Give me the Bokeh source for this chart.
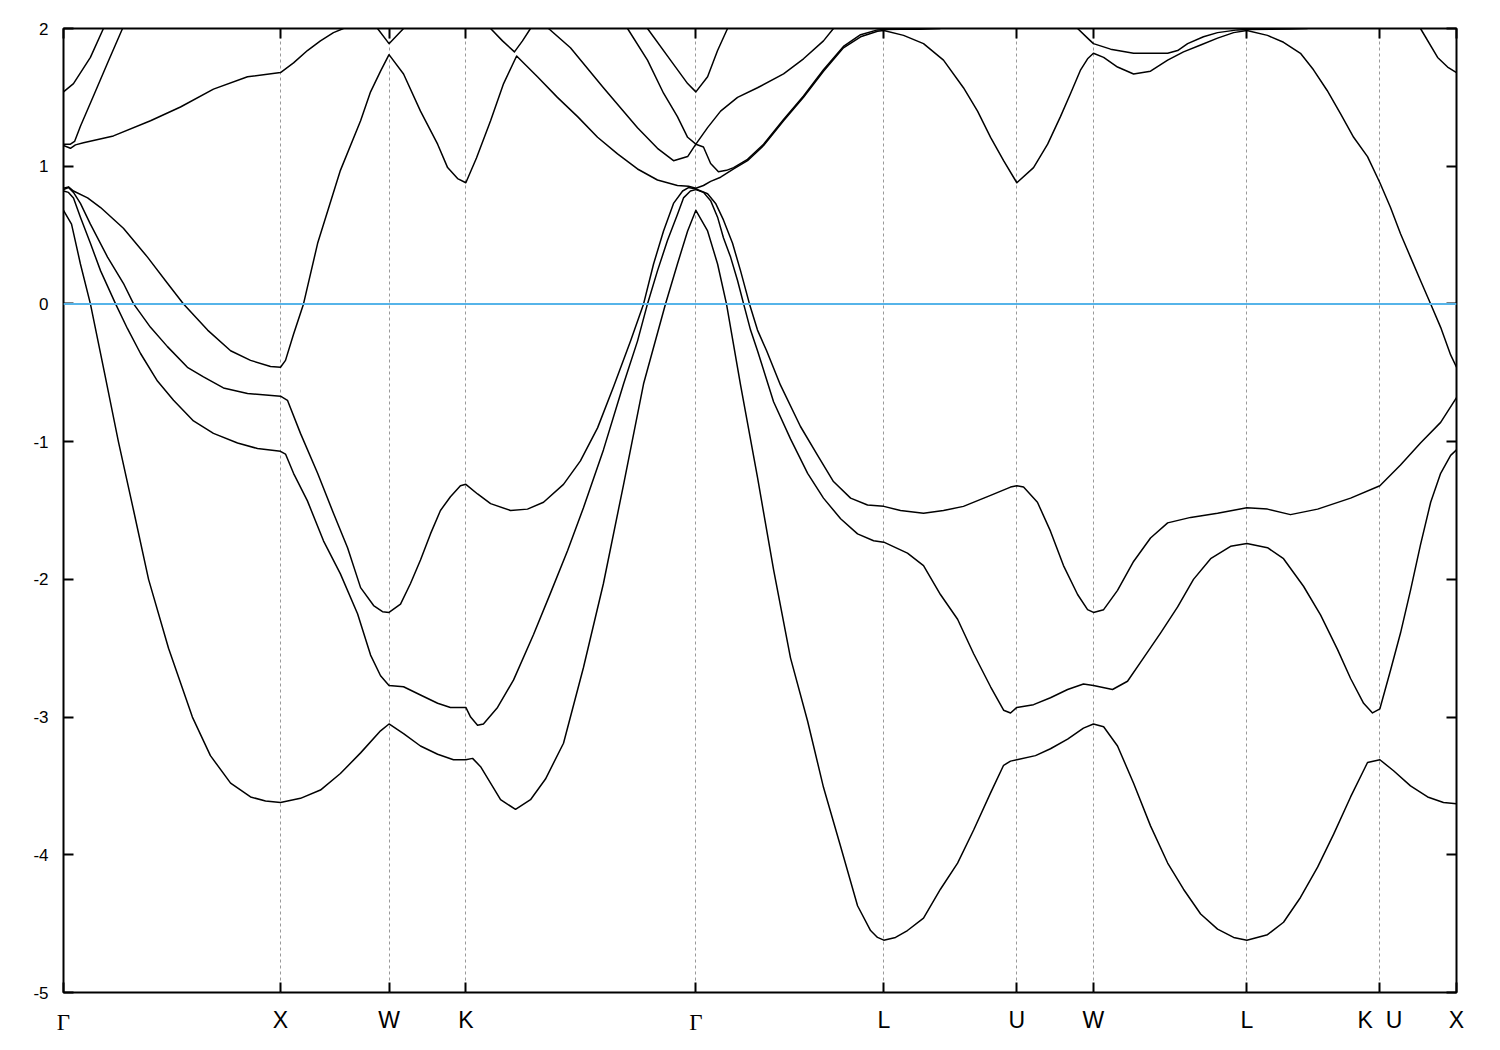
import numpy as np
from bokeh.plotting import figure
from bokeh.models import Range1d, FixedTicker, LinearAxis, Span
from bokeh.embed import file_html
from bokeh.resources import INLINE

nan = float("nan")

# high-symmetry points along the k-path (cumulative distance, 2*pi/a)
hs_k = [0.000, 1.000, 1.500, 1.854, 2.914, 3.780, 4.393, 4.746, 5.453, 6.066, 6.419]
hs_labels = ["Γ", "X", "W", "K", "Γ", "L", "U", "W", "L", "K\u00a0\u00a0U", "X"]
y_ticks = [-5, -4, -3, -2, -1, 0, 1, 2]
y_tick_labels = ["-5", "-4", "-3", "-2", "-1", "0", "1", "2"]
fermi_level = 0.0

# bands: (k, energy eV)
band1 = [(0.000, 0.68), (0.037, 0.58), (0.078, 0.29), (0.124, 0.00), (0.189, -0.50), (0.253, -1.00),
         (0.323, -1.50), (0.392, -2.00), (0.484, -2.50), (0.594, -3.00), (0.677, -3.28), (0.770, -3.48),
         (0.862, -3.58), (0.931, -3.61), (1.000, -3.62),
         (1.092, -3.59), (1.184, -3.53), (1.276, -3.41), (1.369, -3.26), (1.461, -3.10), (1.500, -3.05),
         (1.567, -3.12), (1.645, -3.21), (1.724, -3.27), (1.797, -3.31), (1.854, -3.31),
         (1.885, -3.30), (1.922, -3.36), (1.968, -3.48), (2.014, -3.60), (2.083, -3.67), (2.152, -3.60),
         (2.221, -3.45), (2.304, -3.19), (2.396, -2.64), (2.488, -2.03), (2.581, -1.31), (2.673, -0.58),
         (2.774, 0.00), (2.829, 0.29), (2.876, 0.53), (2.914, 0.68),
         (2.968, 0.53), (3.014, 0.29), (3.055, 0.00), (3.120, -0.59), (3.198, -1.26), (3.272, -1.93),
         (3.350, -2.57), (3.429, -3.03), (3.502, -3.51), (3.581, -3.94), (3.659, -4.37), (3.719, -4.55),
         (3.751, -4.60), (3.780, -4.62),
         (3.834, -4.60), (3.889, -4.55), (3.963, -4.46), (4.041, -4.25), (4.120, -4.06), (4.194, -3.82),
         (4.272, -3.55), (4.332, -3.35), (4.364, -3.32), (4.393, -3.31),
         (4.479, -3.28), (4.548, -3.23), (4.627, -3.16), (4.700, -3.08), (4.746, -3.05),
         (4.793, -3.07), (4.857, -3.21), (4.931, -3.48), (5.009, -3.79), (5.088, -4.06), (5.161, -4.25),
         (5.240, -4.43), (5.318, -4.54), (5.392, -4.60), (5.453, -4.62),
         (5.548, -4.58), (5.622, -4.49), (5.700, -4.31), (5.779, -4.09), (5.853, -3.85), (5.931, -3.58),
         (6.009, -3.33), (6.066, -3.31),
         (6.129, -3.39), (6.207, -3.50), (6.286, -3.58), (6.359, -3.62), (6.419, -3.63)]

band2 = [(0.000, 0.82), (0.023, 0.81), (0.046, 0.77), (0.078, 0.63), (0.124, 0.44), (0.171, 0.24),
         (0.240, 0.00), (0.295, -0.18), (0.355, -0.36), (0.433, -0.56), (0.507, -0.70), (0.599, -0.85),
         (0.691, -0.94), (0.802, -1.01), (0.894, -1.05), (1.000, -1.07),
         (1.023, -1.09), (1.060, -1.23), (1.124, -1.43), (1.198, -1.72), (1.276, -1.96), (1.355, -2.25),
         (1.415, -2.55), (1.461, -2.70), (1.500, -2.77),
         (1.567, -2.78), (1.645, -2.84), (1.724, -2.90), (1.783, -2.93), (1.854, -2.93),
         (1.876, -3.00), (1.908, -3.06), (1.935, -3.05), (2.000, -2.93), (2.074, -2.73), (2.166, -2.40),
         (2.244, -2.10), (2.323, -1.79), (2.396, -1.48), (2.488, -1.06), (2.581, -0.58), (2.645, -0.27),
         (2.691, 0.00), (2.737, 0.24), (2.783, 0.46), (2.829, 0.65), (2.857, 0.77), (2.889, 0.82),
         (2.914, 0.83),
         (2.949, 0.81), (2.982, 0.75), (3.014, 0.63), (3.041, 0.48), (3.074, 0.34), (3.106, 0.17),
         (3.134, 0.00), (3.166, -0.19), (3.198, -0.34), (3.272, -0.71), (3.350, -0.98), (3.429, -1.23),
         (3.502, -1.41), (3.581, -1.56), (3.659, -1.67), (3.733, -1.72), (3.780, -1.73),
         (3.889, -1.81), (3.963, -1.90), (4.041, -2.11), (4.120, -2.29), (4.194, -2.54), (4.272, -2.78),
         (4.332, -2.95), (4.364, -2.97), (4.393, -2.93),
         (4.470, -2.91), (4.548, -2.86), (4.627, -2.80), (4.700, -2.76), (4.746, -2.77),
         (4.834, -2.80), (4.903, -2.74), (4.977, -2.57), (5.055, -2.39), (5.134, -2.20), (5.207, -2.00),
         (5.286, -1.85), (5.378, -1.76), (5.453, -1.74),
         (5.548, -1.77), (5.622, -1.85), (5.714, -2.05), (5.793, -2.26), (5.871, -2.51), (5.931, -2.72),
         (5.991, -2.90), (6.032, -2.97), (6.066, -2.94),
         (6.115, -2.66), (6.161, -2.39), (6.207, -2.08), (6.253, -1.75), (6.300, -1.44), (6.346, -1.23),
         (6.392, -1.10), (6.419, -1.06)]

band3 = [(0.000, 0.83), (0.023, 0.845), (0.046, 0.81), (0.078, 0.73), (0.124, 0.58), (0.203, 0.34),
         (0.276, 0.15), (0.323, 0.00), (0.401, -0.17), (0.479, -0.31), (0.571, -0.46), (0.645, -0.53),
         (0.737, -0.61), (0.848, -0.65), (1.000, -0.67),
         (1.032, -0.70), (1.092, -0.94), (1.171, -1.23), (1.244, -1.52), (1.309, -1.77), (1.369, -2.06),
         (1.429, -2.19), (1.470, -2.235), (1.500, -2.24),
         (1.553, -2.18), (1.599, -2.03), (1.645, -1.86), (1.691, -1.67), (1.737, -1.50), (1.783, -1.40),
         (1.829, -1.32), (1.854, -1.31),
         (1.908, -1.38), (1.968, -1.45), (2.060, -1.50), (2.138, -1.49), (2.212, -1.44), (2.304, -1.31),
         (2.382, -1.14), (2.461, -0.90), (2.535, -0.60), (2.613, -0.27), (2.673, 0.00), (2.719, 0.29),
         (2.765, 0.53), (2.811, 0.73), (2.853, 0.82), (2.880, 0.845), (2.914, 0.835),
         (2.968, 0.80), (3.005, 0.73), (3.041, 0.61), (3.083, 0.44), (3.120, 0.24), (3.161, 0.00),
         (3.198, -0.19), (3.240, -0.34), (3.304, -0.59), (3.396, -0.89), (3.475, -1.10), (3.548, -1.29),
         (3.627, -1.41), (3.705, -1.46), (3.780, -1.47),
         (3.857, -1.50), (3.963, -1.52), (4.055, -1.50), (4.147, -1.47), (4.272, -1.39), (4.364, -1.33),
         (4.393, -1.32),
         (4.424, -1.33), (4.488, -1.44), (4.548, -1.65), (4.608, -1.90), (4.673, -2.11), (4.719, -2.22),
         (4.746, -2.24),
         (4.793, -2.22), (4.857, -2.08), (4.931, -1.87), (5.009, -1.70), (5.088, -1.59), (5.194, -1.55),
         (5.318, -1.52), (5.453, -1.48),
         (5.548, -1.49), (5.654, -1.53), (5.779, -1.49), (5.931, -1.41), (6.066, -1.32),
         (6.161, -1.17), (6.253, -1.01), (6.346, -0.86), (6.419, -0.68)]

band4 = [(0.000, 0.84), (0.023, 0.85), (0.046, 0.82), (0.111, 0.77), (0.171, 0.70), (0.276, 0.55),
         (0.387, 0.34), (0.479, 0.15), (0.553, 0.00), (0.664, -0.19), (0.770, -0.34), (0.862, -0.41),
         (0.954, -0.455), (1.000, -0.46),
         (1.023, -0.41), (1.060, -0.22), (1.106, 0.00), (1.171, 0.44), (1.276, 0.97), (1.369, 1.33),
         (1.415, 1.54), (1.461, 1.69), (1.500, 1.81),
         (1.567, 1.67), (1.645, 1.40), (1.724, 1.16), (1.770, 0.99), (1.816, 0.91), (1.854, 0.88),
         (1.903, 1.06), (1.968, 1.33), (2.028, 1.60), (2.088, 1.80), (2.184, 1.65), (2.276, 1.50),
         (2.369, 1.36), (2.461, 1.21), (2.553, 1.09), (2.645, 0.98), (2.737, 0.90), (2.829, 0.86),
         (2.880, 0.855), (2.914, 0.84),
         (2.949, 0.86), (2.982, 0.89), (3.028, 0.92), (3.088, 0.98), (3.152, 1.04), (3.226, 1.15),
         (3.318, 1.33), (3.410, 1.50), (3.502, 1.69), (3.594, 1.86), (3.673, 1.94), (3.751, 1.98),
         (3.780, 1.985),
         (3.871, 1.95), (3.963, 1.89), (4.055, 1.77), (4.147, 1.57), (4.212, 1.40), (4.272, 1.21),
         (4.332, 1.04), (4.393, 0.88),
         (4.470, 0.99), (4.535, 1.16), (4.594, 1.36), (4.641, 1.53), (4.687, 1.70), (4.719, 1.78),
         (4.746, 1.82),
         (4.793, 1.79), (4.857, 1.72), (4.931, 1.67), (5.009, 1.69), (5.088, 1.77), (5.161, 1.83),
         (5.240, 1.88), (5.318, 1.93), (5.392, 1.97), (5.453, 1.985),
         (5.548, 1.95), (5.622, 1.90), (5.700, 1.82), (5.760, 1.70), (5.823, 1.55), (5.885, 1.38),
         (5.945, 1.21), (6.009, 1.07), (6.066, 0.88),
         (6.115, 0.70), (6.161, 0.51), (6.207, 0.34), (6.253, 0.17), (6.300, 0.00), (6.346, -0.17),
         (6.392, -0.37), (6.419, -0.46)]

band5 = [(0.000, 1.15), (0.032, 1.13), (0.055, 1.155), (0.092, 1.17), (0.230, 1.22), (0.401, 1.33),
         (0.539, 1.43), (0.691, 1.56), (0.848, 1.65), (1.000, 1.68),
         (1.060, 1.75), (1.124, 1.84), (1.184, 1.91), (1.244, 1.97), (1.290, 2.00), (nan, nan),
         (1.447, 2.00), (1.500, 1.89), (1.567, 2.00), (nan, nan),
         (1.968, 2.00), (2.023, 1.91), (2.078, 1.83), (2.115, 1.91), (2.152, 2.00), (2.194, 2.03),
         (2.235, 2.00), (2.336, 1.86), (2.488, 1.57), (2.645, 1.28), (2.737, 1.13), (2.811, 1.04),
         (2.876, 1.07), (2.914, 1.16),
         (2.949, 1.14), (2.982, 1.02), (3.018, 0.96), (3.055, 0.97), (3.088, 0.99), (3.152, 1.05),
         (3.226, 1.16), (3.318, 1.34), (3.410, 1.51), (3.502, 1.70), (3.594, 1.87), (3.673, 1.955),
         (3.751, 1.99), (3.780, 1.993),
         (3.857, 1.994), (3.949, 1.995), (4.041, 2.00), (nan, nan),
         (4.673, 2.00), (4.719, 1.93), (4.746, 1.89),
         (4.825, 1.85), (4.931, 1.82), (5.088, 1.82), (5.134, 1.84), (5.180, 1.89), (5.253, 1.94),
         (5.318, 1.97), (5.410, 1.99), (5.453, 1.993),
         (5.562, 1.995), (5.654, 1.997), (5.733, 2.00), (nan, nan),
         (6.253, 2.00), (6.332, 1.79), (6.378, 1.72), (6.419, 1.68)]

band6 = [(0.000, 1.16), (0.032, 1.16), (0.051, 1.18), (0.078, 1.29), (0.138, 1.51), (0.203, 1.75),
         (0.272, 2.00), (nan, nan),
         (2.599, 2.00), (2.691, 1.77), (2.765, 1.53), (2.829, 1.36), (2.876, 1.21), (2.914, 1.16),
         (2.968, 1.28), (3.028, 1.40), (3.106, 1.50), (3.198, 1.57), (3.318, 1.67), (3.410, 1.78),
         (3.502, 1.91), (3.548, 2.00)]

band7 = [(0.000, 1.54), (0.046, 1.60), (0.124, 1.79), (0.184, 2.00), (nan, nan),
         (2.691, 2.00), (2.797, 1.77), (2.876, 1.60), (2.914, 1.54),
         (2.968, 1.65), (3.014, 1.84), (3.060, 2.00)]

bands = [band1, band2, band3, band4, band5, band6, band7]

p = figure(frame_width=1393, frame_height=964,
           x_range=Range1d(hs_k[0], hs_k[-1]), y_range=Range1d(y_ticks[0], y_ticks[-1]),
           output_backend="svg", toolbar_location=None,
           min_border_left=63, min_border_right=36, min_border_top=28, min_border_bottom=46)
p.outline_line_color = "black"
p.outline_line_width = 2
p.background_fill_color = "white"
p.border_fill_color = "white"

for b in bands:
    k = np.array([q[0] for q in b], dtype=float)
    e = np.array([q[1] for q in b], dtype=float)
    p.line(k, e, line_color="black", line_width=1.5, line_join="round")

p.add_layout(Span(location=fermi_level, dimension="width", line_color="#56b4e9", line_width=2))

# grid: dotted verticals at interior high-symmetry points
p.xgrid.ticker = FixedTicker(ticks=hs_k[1:-1])
p.xgrid.grid_line_color = "#999999"
p.xgrid.grid_line_dash = "3 3"
p.xgrid.grid_line_width = 1
p.ygrid.visible = False

gamma_k = [k for k, lab in zip(hs_k, hs_labels) if lab == "Γ"]
other_k = [k for k, lab in zip(hs_k, hs_labels) if lab != "Γ"]

# main bottom axis: ticks at every point, sans labels for the non-Gamma points
xa = p.xaxis[0]
xa.ticker = FixedTicker(ticks=hs_k)
xa.major_label_overrides = {k: ("" if lab == "Γ" else lab) for k, lab in zip(hs_k, hs_labels)}
ya = p.yaxis[0]
ya.ticker = FixedTicker(ticks=y_ticks)
ya.major_label_overrides = {t: s for t, s in zip(y_ticks, y_tick_labels)}

for ax in (xa, ya):
    ax.axis_line_color = None
    ax.major_tick_in = 10
    ax.major_tick_out = 0
    ax.major_tick_line_width = 2
    ax.minor_tick_line_color = None
    ax.major_label_text_font = "Liberation Sans"
    ax.major_label_text_color = "black"
xa.major_label_text_font_size = "23px"
xa.major_label_standoff = 14
ya.major_label_text_font_size = "17px"
ya.major_label_standoff = 15

# second bottom axis carrying the serif Gamma labels, pulled up onto the same line
ga = LinearAxis(ticker=FixedTicker(ticks=gamma_k), axis_line_color=None, major_tick_in=0,
                major_tick_out=0, minor_tick_line_color=None, major_tick_line_color=None,
                major_label_overrides={k: "Γ" for k in gamma_k},
                major_label_text_font="Liberation Serif", major_label_text_font_size="23px",
                major_label_text_color="black", major_label_standoff=-26)
p.add_layout(ga, "below")

ra = LinearAxis(ticker=FixedTicker(ticks=y_ticks), axis_line_color=None, major_tick_in=10,
                major_tick_out=0, major_tick_line_width=2, minor_tick_line_color=None,
                major_label_overrides={t: "" for t in y_ticks}, major_label_standoff=0)
p.add_layout(ra, "right")
ta = LinearAxis(ticker=FixedTicker(ticks=hs_k), axis_line_color=None, major_tick_in=10,
                major_tick_out=0, major_tick_line_width=2, minor_tick_line_color=None,
                major_label_overrides={k: "" for k in hs_k}, major_label_standoff=0)
p.add_layout(ta, "above")

open("out.html", "w").write(file_html(p, INLINE))
